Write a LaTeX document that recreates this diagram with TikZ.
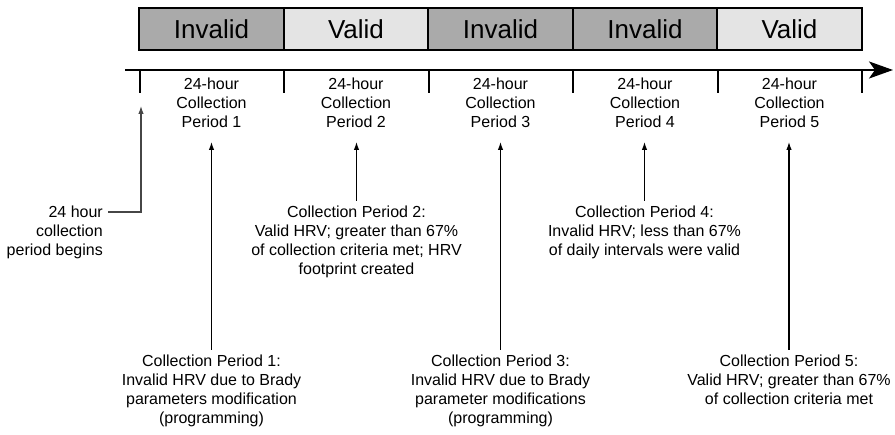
\documentclass[tikz,border=0pt]{standalone}
\usepackage{fontspec}
\setmainfont{Liberation Sans}
\usetikzlibrary{positioning,calc}
\usetikzlibrary{arrows.meta}
\definecolor{InvGray}{RGB}{170,170,170}
\definecolor{ValGray}{RGB}{228,228,228}
\definecolor{LineGray}{RGB}{70,70,70}
\tikzset{
  hdr/.style={draw=black,line width=1.8pt,minimum width=144.5pt,minimum height=42pt,inner sep=0pt,
    font=\fontsize{26}{31}\selectfont},
  invalid/.style={hdr,fill=InvGray},
  valid/.style={hdr,fill=ValGray},
  axis/.style={draw=black,line width=2.5pt},
}
\tikzset{tickmark/.style={draw=black,line width=2pt}, lbl/.style={align=center,inner sep=0pt,anchor=north,font=\fontsize{16}{19}\selectfont},ptr/.style={draw=black,line width=1.1pt,shorten <=5pt,-{Latex[length=8pt,width=5.5pt]}}}

\begin{document}
\begin{tikzpicture}[x=1pt,y=-1pt]
\useasboundingbox (0,0) rectangle (895,435);
\node[invalid] (h1) at (211.5,29) {Invalid};
\node[valid] (h2) at (356,29) {Valid};
\node[invalid] (h3) at (500.5,29) {Invalid};
\node[invalid] (h4) at (645,29) {Invalid};
\node[valid] (h5) at (789.5,29) {Valid};
\coordinate (ax0) at (125,70);
\coordinate (ax1) at (893,70);
\draw[axis,-{Stealth[length=24pt,width=17pt,inset=6pt]}] (ax0) -- (ax1);
\coordinate (t0) at (139.5,70);
\coordinate (t1) at (284,70);
\coordinate (t2) at (428.5,70);
\coordinate (t3) at (573,70);
\coordinate (t4) at (717.5,70);
\coordinate (t5) at (862,70);
\draw[tickmark] (t0) -- ++(0,23);
\draw[tickmark] (t1) -- ++(0,23);
\draw[tickmark] (t2) -- ++(0,23);
\draw[tickmark] (t3) -- ++(0,23);
\draw[tickmark] (t4) -- ++(0,23);
\draw[tickmark] (t5) -- ++(0,23);
\node[lbl] (p1) at (211.5,77.5) {24-hour\\Collection\\Period 1};
\node[lbl] (p2) at (356,77.5) {24-hour\\Collection\\Period 2};
\node[lbl] (p3) at (500.5,77.5) {24-hour\\Collection\\Period 3};
\node[lbl] (p4) at (645,77.5) {24-hour\\Collection\\Period 4};
\node[lbl] (p5) at (789.5,77.5) {24-hour\\Collection\\Period 5};
% notes under the axis
\node[lbl,anchor=north east,align=right] (beg) at (103,206) {24 hour\\collection\\period begins};
\node[lbl] (n1) at (211.5,355) {Collection Period 1:\\Invalid HRV due to Brady\\parameters modification\\(programming)};
\node[lbl] (n2) at (356.5,206) {Collection Period 2:\\Valid HRV; greater than 67\%\\of collection criteria met; HRV\\footprint created};
\node[lbl] (n3) at (500.5,355) {Collection Period 3:\\Invalid HRV due to Brady\\parameter modifications\\(programming)};
\node[lbl] (n4) at (644.5,206) {Collection Period 4:\\Invalid HRV; less than 67\%\\of daily intervals were valid};
\node[lbl] (n5) at (789,355) {Collection Period 5:\\Valid HRV; greater than 67\%\\of collection criteria met};
\coordinate (tipy) at (0,142);
\coordinate (bk) at (141,212);
\coordinate (btip) at (141,106);
\draw[ptr,draw=LineGray] (beg.north east |- bk) -- (bk) -- (btip);
\draw[ptr] (n1.north) -- (n1.north |- tipy);
\draw[ptr] (n2.north) -- (n2.north |- tipy);
\draw[ptr] (n3.north) -- (n3.north |- tipy);
\draw[ptr] (n4.north) -- (n4.north |- tipy);
\draw[ptr] (n5.north) -- (n5.north |- tipy);
\end{tikzpicture}
\end{document}
